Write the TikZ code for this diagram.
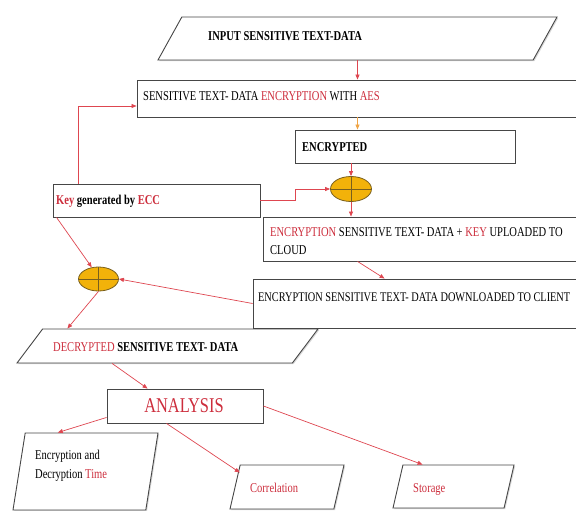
\documentclass[tikz,border=0pt]{standalone}
\usepackage{fontspec}
\setmainfont[FakeStretch=0.78]{Liberation Serif}
\usetikzlibrary{shapes.geometric,arrows.meta,shadows}
\definecolor{txtred}{RGB}{205,45,60}
\definecolor{linered}{RGB}{222,70,80}
\definecolor{boxgray}{RGB}{70,70,70}
\definecolor{xorfill}{RGB}{242,178,10}
\definecolor{xordraw}{RGB}{120,95,30}
\definecolor{aesorange}{RGB}{240,165,70}
\newcommand{\redword}[1]{\textcolor{txtred}{#1}}
\newcommand{\slanth}[1]{\rule{0pt}{#1pt}}
\tikzset{
  procbox/.style={ draw=boxgray, fill=white, line width=0.9pt, rectangle, inner sep=0pt,
    drop shadow={shadow xshift=1.2pt, shadow yshift=-1.2pt, fill=black!30} }
}
\tikzset{
  slantbox/.style={ draw=boxgray, fill=white, line width=0.9pt, trapezium, trapezium stretches body=true, inner sep=0pt,
    drop shadow={shadow xshift=1.2pt, shadow yshift=-1.2pt, fill=black!30} }
}
\tikzset{
  xorcirc/.style={ draw=xordraw, fill=xorfill, ellipse, line width=0.8pt, inner sep=0pt,
    path picture={\draw[xordraw, line width=0.8pt] (path picture bounding box.north) -- (path picture bounding box.south)
      (path picture bounding box.west) -- (path picture bounding box.east);} }
}
\tikzset{
  flow/.style={ draw=linered, line width=0.7pt, -{Triangle[length=5pt, width=4pt]} }
}
\tikzset{
  txt/.style={ anchor=west, inner sep=0pt, font=\fontsize{13.5}{18}\selectfont, align=left }
}

\begin{document}
\begin{tikzpicture}[x=1pt, y=-1pt]
      \useasboundingbox (0,0) rectangle (576,511);

      \node[slantbox, minimum width=399, minimum height=43, trapezium left angle=61, trapezium right angle=119] (input) at (357.5, 38.5) {\slanth{43}};
      \node[txt, font=\fontsize{13.5}{18}\selectfont\bfseries] (inputtxt) at (208, 36) {INPUT SENSITIVE TEXT-DATA};

      \node[procbox, minimum width=453, minimum height=37] (aes) at (363.5, 98.5) {};
      \node[txt] (aestxt) at (143, 96) {SENSITIVE TEXT- DATA \redword{ENCRYPTION} WITH \redword{AES}};

      \node[procbox, minimum width=220, minimum height=33] (enc) at (405, 146.5) {};
      \node[txt, font=\fontsize{13.5}{18}\selectfont\bfseries] (enctxt) at (302, 147) {ENCRYPTED};

      \node[procbox, minimum width=207, minimum height=33] (key) at (156.5, 200.5) {};
      \node[txt, font=\fontsize{13.5}{18}\selectfont\bfseries] (keytxt) at (56, 201) {\redword{Key} generated by \redword{ECC}};

      \node[xorcirc, minimum width=41, minimum height=25] (xor1) at (351, 189) {};

      \node[procbox, minimum width=327, minimum height=44] (upload) at (426.5, 239) {};
      \node[txt] (uploadtxt) at (270, 241) {\redword{ENCRYPTION} SENSITIVE TEXT- DATA + \redword{KEY} UPLOADED TO\\CLOUD};

      \node[procbox, minimum width=337, minimum height=49] (dl) at (421.5, 303.5) {};
      \node[txt, font=\fontsize{13.2}{18}\selectfont] (dltxt) at (258, 297) {ENCRYPTION SENSITIVE TEXT- DATA DOWNLOADED TO CLIENT};

      \node[xorcirc, minimum width=40, minimum height=24] (xor2) at (98.5, 279) {};

      \node[slantbox, minimum width=301, minimum height=34, trapezium left angle=53, trapezium right angle=127] (decr) at (167.5, 346) {\slanth{34}};
      \node[txt] (decrtxt) at (53, 347) {\redword{DECRYPTED} \textbf{SENSITIVE TEXT- DATA}};

      \node[procbox, minimum width=156, minimum height=34] (ana) at (185, 406) {};
      \node[txt, anchor=center, font=\fontsize{21}{24}\selectfont, text=txtred] (anatxt) at (184, 406) {ANALYSIS};

      \node[slantbox, minimum width=145, minimum height=77, trapezium left angle=81, trapezium right angle=99] (time) at (85.5, 471.5) {\slanth{77}};
      \node[txt, font=\fontsize{13.5}{19}\selectfont] (timetxt) at (35, 466) {Encryption and\\Decryption \redword{Time}};

      \node[slantbox, minimum width=114, minimum height=44, trapezium left angle=77, trapezium right angle=103] (corr) at (287, 487) {\slanth{44}};
      \node[txt, text=txtred] (corrtxt) at (250, 488) {Correlation};

      \node[slantbox, minimum width=121, minimum height=43, trapezium left angle=77, trapezium right angle=103] (store) at (453.5, 486.5) {\slanth{43}};
      \node[txt, text=txtred] (storetxt) at (413, 489) {Storage};

      % flow of the data
      \draw[flow] (input.south) -- (input.south |- aes.north);
      \draw[flow, draw=aesorange] (input.south |- aes.south) -- (input.south |- enc.north);
      \draw[flow] (enc.south -| xor1) -- (xor1.north);
      \draw[flow] (key.east) -- ++(35,0) |- (xor1.west);
      \draw[flow] ([xshift=26pt]key.north west) |- ([yshift=-7.5pt]aes.west);
      \draw[flow] (xor1.south) -- (xor1.south |- upload.north);
      \draw[flow] ([xshift=95pt]upload.south west) -- ([xshift=132pt]dl.north west);
      \draw[flow] (dl.west) -- (xor2.east);
      \draw[flow] ([xshift=4pt]key.south west) -- (xor2.120);
      \draw[flow] (xor2.south) -- ([xshift=25pt]decr.top left corner);
      \draw[flow] ([xshift=96pt]decr.bottom left corner) -- ([xshift=41pt]ana.north west);
      \draw[flow] ([yshift=6pt]ana.south west) -- ([xshift=33pt]time.top left corner);
      \draw[flow] ([xshift=60pt]ana.south west) -- ([yshift=-8pt]corr.top left corner);
      \draw[flow] (ana.east) -- ([xshift=20pt]store.top left corner);
    \end{tikzpicture}
\end{document}
